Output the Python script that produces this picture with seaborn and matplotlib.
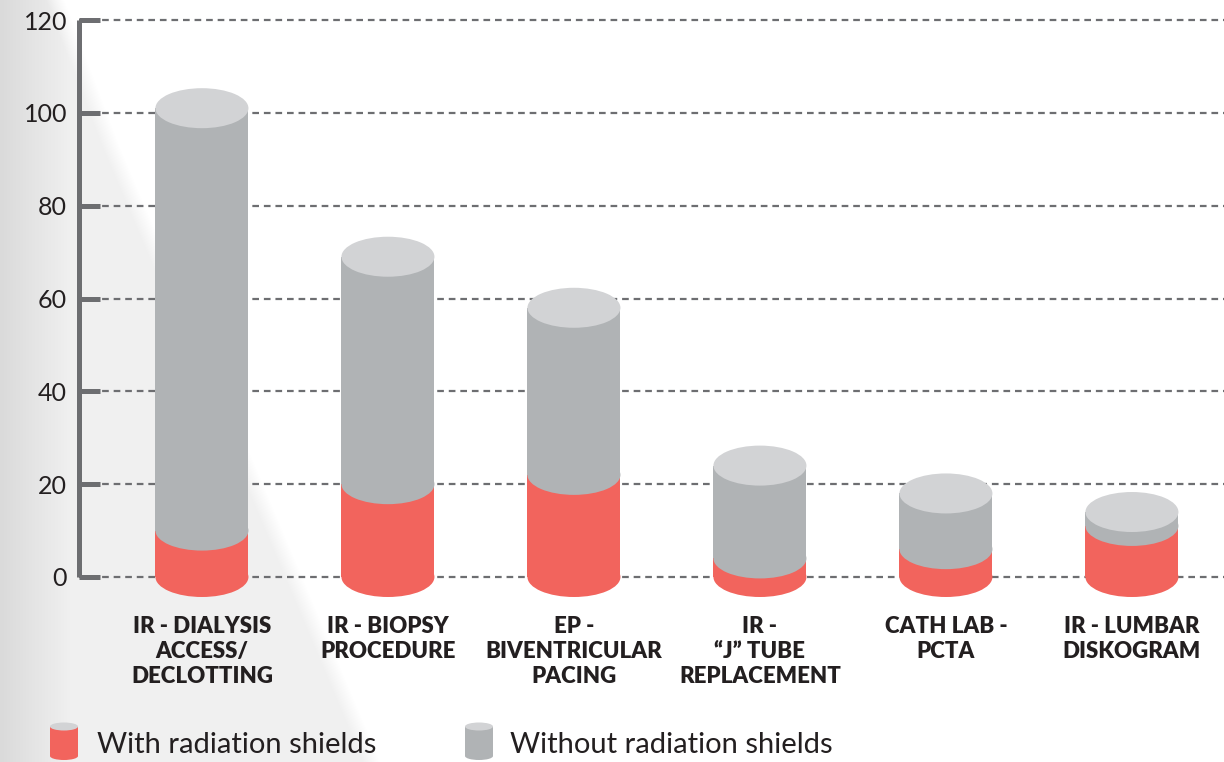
import numpy as np
import pandas as pd
import matplotlib
matplotlib.use("Agg")
import matplotlib.pyplot as plt
from matplotlib.patches import Ellipse, Rectangle
import seaborn as sns

# ---------------- data ----------------
categories = [
    "IR - DIALYSIS\nACCESS/\nDECLOTTING",
    "IR - BIOPSY\nPROCEDURE",
    "EP -\nBIVENTRICULAR\nPACING",
    "IR -\n\u201cJ\u201d TUBE\nREPLACEMENT",
    "CATH LAB -\nPCTA",
    "IR - LUMBAR\nDISKOGRAM",
]
with_shields = [10, 20, 22, 4, 6, 11]
without_shields = [101, 69, 58, 24, 18, 14]
y_ticks = [0, 20, 40, 60, 80, 100, 120]
legend_labels = ["With radiation shields", "Without radiation shields"]

RED = "#f2645d"
GRAY = "#b0b3b5"
TOP = "#d2d3d5"
AXC = "#6d6e71"
TXT = "#231f20"

sns.set_theme(style="white")
plt.rcParams["font.family"] = ["Lato", "DejaVu Sans"]

W, H = 1224, 762
fig = plt.figure(figsize=(W / 100, H / 100), dpi=100)

# ---------------- background decoration ----------------
bg = fig.add_axes([0, 0, 1, 1], zorder=-10)
yy, xx = np.mgrid[0:H, 0:W].astype(float)
by = np.array([0, 146, 485, 762], float)
bx = np.array([55, 110, 254, 371], float)
xb = np.interp(yy, by, bx)
soft = np.clip((xb - xx) / 18.0 + 0.5, 0, 1)
base = 240 - 22 * np.clip(1 - xx / 70.0, 0, 1)
val = 255 - (255 - base) * soft
img = np.dstack([val, val, val]) / 255.0
bg.imshow(img, extent=[0, W, H, 0], aspect="auto", interpolation="bilinear")
bg.set_xlim(0, W)
bg.set_ylim(H, 0)
bg.axis("off")

# ---------------- main axes ----------------
px_per_unit = (577 - 20) / 120.0
ymin, ymax = -6, 121
bottom_px = 577 + (-ymin) * px_per_unit
top_px = 20 - (ymax - 120) * px_per_unit
ax = fig.add_axes([79 / W, (H - bottom_px) / H, 1145 / W, (bottom_px - top_px) / H])
ax.set_facecolor("none")

df = pd.DataFrame({"procedure": categories,
                   "with": with_shields,
                   "without": without_shields})

sns.barplot(data=df, x="procedure", y="without", color=GRAY, width=0.5,
            saturation=1, errorbar=None, linewidth=0, ax=ax, zorder=2)
sns.barplot(data=df, x="procedure", y="with", color=RED, width=0.5,
            saturation=1, errorbar=None, linewidth=0, ax=ax, zorder=3)

ell_h = 40 / px_per_unit
gray_bars = ax.patches[:6]
red_bars = ax.patches[6:12]
for gb, rb in zip(gray_bars, red_bars):
    cx = gb.get_x() + gb.get_width() / 2
    w = gb.get_width()
    ax.add_patch(Ellipse((cx, 0), w, ell_h, color=RED, lw=0, zorder=3))
    ax.add_patch(Ellipse((cx, rb.get_height()), w, ell_h, color=GRAY, lw=0, zorder=4))
    ax.add_patch(Ellipse((cx, gb.get_height()), w, ell_h, color=TOP, lw=0, zorder=5))

ax.set_xlim(-0.661, 5.495)
ax.set_ylim(ymin, ymax)
ax.set_xlabel("")
ax.set_ylabel("")

for s in ["top", "right", "bottom"]:
    ax.spines[s].set_visible(False)
ax.spines["left"].set_bounds(0, 120)
ax.spines["left"].set_linewidth(3.6)
ax.spines["left"].set_color(AXC)
ax.spines["left"].set_capstyle("butt")

ax.set_yticks(y_ticks)
ax.tick_params(axis="y", direction="in", length=15, width=3.6, color=AXC,
               pad=8.5, labelsize=18, labelcolor=TXT, left=True)
for lbl in ax.get_yticklabels():
    lbl.set_fontweight("normal")

ax.set_xticks(range(len(categories)))
ax.set_xticklabels(categories)
ax.tick_params(axis="x", length=0, pad=8, labelsize=16, labelcolor=TXT)
for lbl in ax.get_xticklabels():
    lbl.set_fontweight("heavy")
    lbl.set_linespacing(1.25)

ax.yaxis.grid(True, linestyle=(0, (3, 2.2)), linewidth=1.6, color=AXC)
ax.xaxis.grid(False)
ax.set_axisbelow(True)

# ---------------- legend (custom cylinder icons) ----------------
lg = fig.add_axes([0, 0, 1, 1], zorder=5)
lg.set_xlim(0, W)
lg.set_ylim(H, 0)
lg.axis("off")
lg.set_facecolor("none")
for (x0, col, lab, tx) in [(50, RED, legend_labels[0], 97),
                           (465, GRAY, legend_labels[1], 510)]:
    lg.add_patch(Rectangle((x0, 726.5), 28, 29.5, color=col, lw=0))
    lg.add_patch(Ellipse((x0 + 14, 756), 28, 8, color=col, lw=0))
    lg.add_patch(Ellipse((x0 + 14, 726.5), 28, 8, color=TOP, lw=0))
    lg.text(tx, 745, lab, fontsize=21, fontweight="normal", color=TXT,
            va="center", ha="left")

fig.savefig("out.png", dpi=100)
